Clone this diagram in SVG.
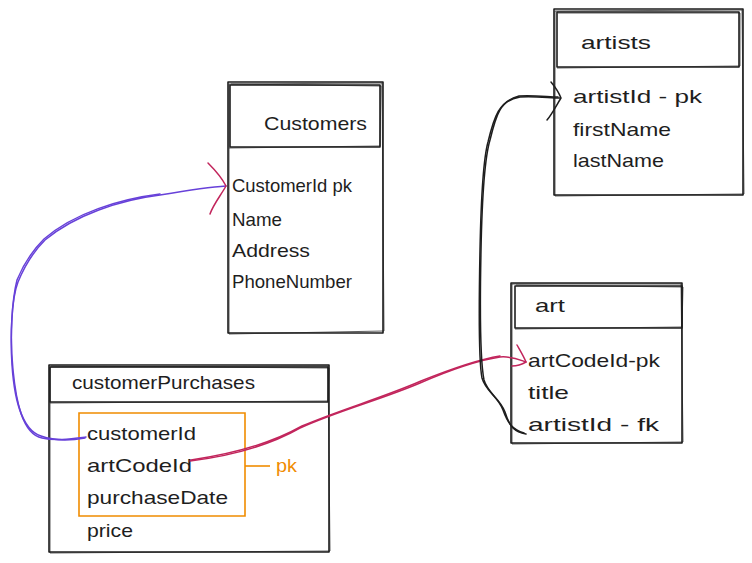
<svg xmlns="http://www.w3.org/2000/svg" width="752" height="563" viewBox="0 0 752 563">
<style>
.bx{fill:none;stroke:#1e1e1e;stroke-width:1.6;stroke-linejoin:round}
.bx2{fill:none;stroke:#1e1e1e;stroke-width:0.9;opacity:0.8}
.t{font-family:"Liberation Sans",Arial,sans-serif;font-size:19px;fill:#1e1e1e}
.c{fill:none;stroke-width:1.5;stroke-linecap:round;stroke-linejoin:round}
.pur{stroke:#6741d9}
.red{stroke:#c2255c}
.blk{stroke:#1e1e1e}
.org{fill:none;stroke:#f08c00;stroke-width:1.6}
</style>
<rect width="752" height="563" fill="#ffffff"/>

<g id="customers">
<path class="bx" d="M228 82 L383 82 L383 333 L228 333 Z"/>
<path class="bx2" d="M229 84 L382 83 L384 331 L229 334 Z"/>
<path class="bx" d="M230 85 L380 85 L380 147 L230 147 Z"/>
<path class="bx2" d="M231 84 L381 86 L380 146 L229 148"/>
<text class="t" x="264" y="130" textLength="103" lengthAdjust="spacingAndGlyphs">Customers</text>
<text class="t" x="232" y="192" textLength="120" lengthAdjust="spacingAndGlyphs">CustomerId pk</text>
<text class="t" x="232" y="226" textLength="50" lengthAdjust="spacingAndGlyphs">Name</text>
<text class="t" x="232" y="257" textLength="78" lengthAdjust="spacingAndGlyphs">Address</text>
<text class="t" x="232" y="288" textLength="120" lengthAdjust="spacingAndGlyphs">PhoneNumber</text>
</g>

<g id="artists">
<path class="bx" d="M554 9 L743 9 L743 195 L554 195 Z"/>
<path class="bx2" d="M555 11 L742 10 L744 194 L555 196 Z"/>
<path class="bx" d="M557 12 L739 12 L739 67 L557 67 Z"/>
<path class="bx2" d="M558 13 L740 13 L740 66 L557 68"/>
<text class="t" x="581" y="49" textLength="70" lengthAdjust="spacingAndGlyphs">artists</text>
<text class="t" x="573" y="103" textLength="129" lengthAdjust="spacingAndGlyphs">artistId - pk</text>
<text class="t" x="573" y="136" textLength="98" lengthAdjust="spacingAndGlyphs">firstName</text>
<text class="t" x="573" y="167" textLength="91" lengthAdjust="spacingAndGlyphs">lastName</text>
</g>

<g id="art">
<path class="bx" d="M511 283 L682 283 L682 443 L511 443 Z"/>
<path class="bx2" d="M512 284 L681 284 L683 442 L512 444 Z"/>
<path class="bx" d="M515 286 L682 286 L682 328 L515 328 Z"/>
<path class="bx2" d="M516 285 L683 287 L682 327 L515 329"/>
<text class="t" x="535" y="312" textLength="30" lengthAdjust="spacingAndGlyphs">art</text>
<text class="t" x="528" y="367" textLength="132" lengthAdjust="spacingAndGlyphs">artCodeId-pk</text>
<text class="t" x="528" y="399" textLength="41" lengthAdjust="spacingAndGlyphs">title</text>
<text class="t" x="528" y="431" textLength="131" lengthAdjust="spacingAndGlyphs">artistId - fk</text>
</g>

<g id="customerPurchases">
<path class="bx" d="M49 365 L329 365 L329 552 L49 552 Z"/>
<path class="bx2" d="M50 367 L328 366 L330 551 L50 553 Z"/>
<path class="bx" d="M50 367 L328 367 L328 402 L50 402 Z"/>
<path class="bx2" d="M51 366 L329 368 L328 401 L50 403"/>
<path class="org" d="M79 413 L245 413 L245 516 L79 516 Z"/>
<path class="org" d="M245 466 L270 466"/>
<text class="t" x="72" y="389" textLength="183" lengthAdjust="spacingAndGlyphs">customerPurchases</text>
<text class="t" x="87" y="440" textLength="109" lengthAdjust="spacingAndGlyphs">customerId</text>
<text class="t" x="87" y="472" textLength="105" lengthAdjust="spacingAndGlyphs">artCodeId</text>
<text class="t" x="87" y="504" textLength="141" lengthAdjust="spacingAndGlyphs">purchaseDate</text>
<text class="t" x="87" y="537" textLength="46" lengthAdjust="spacingAndGlyphs">price</text>
<text class="t" x="276" y="472" textLength="21" lengthAdjust="spacingAndGlyphs" style="fill:#f08c00">pk</text>
</g>

<g id="connectors">
<path class="c pur" d="M86 437 C70 439 55 441 42 438 C22 434 16 400 13 370 C10 340 11 300 18 282 C25 265 35 250 45 240 C75 215 120 200 160 195 C190 190 210 187 226 186"/>
<path class="c pur" d="M85 438 C68 441 52 440 41 436 C21 430 14 395 12 365 C10 335 12 300 17 280 C24 263 34 249 44 239 C74 213 120 199 160 194" stroke-width="0.8"/>
<path class="c red" d="M208 163 C215 170 222 178 226 186 C221 195 213 205 210 214"/>
<path class="c red" d="M190 461 C230 456 270 445 300 428 C340 410 380 400 420 383 C450 370 480 360 500 357 C512 356 520 360 526 362"/>
<path class="c red" d="M191 460 C232 454 272 443 302 426 C342 409 382 398 421 381 C451 369 481 359 500 356" stroke-width="0.8"/>
<path class="c red" d="M517 345 C521 352 524 357 526 362 C521 365 516 366 512 366"/>
<path class="c blk" d="M526 434 C515 432 510 428 505 412 C500 398 488 394 484 380 C480 360 480 300 481 250 C482 200 484 160 490 140 C496 115 500 100 520 97 C535 96 550 98 560 98"/>
<path class="c blk" d="M524 433 C513 430 508 424 503 410 C498 396 486 392 482 378 C478 358 479 300 480 250 C481 200 483 160 488 142 C494 117 499 101 519 96 C534 95 549 97 558 97" stroke-width="0.8"/>
<path class="c blk" d="M551 82 C556 88 559 93 561 98 C556 106 552 114 547 120"/>
</g>
</svg>
